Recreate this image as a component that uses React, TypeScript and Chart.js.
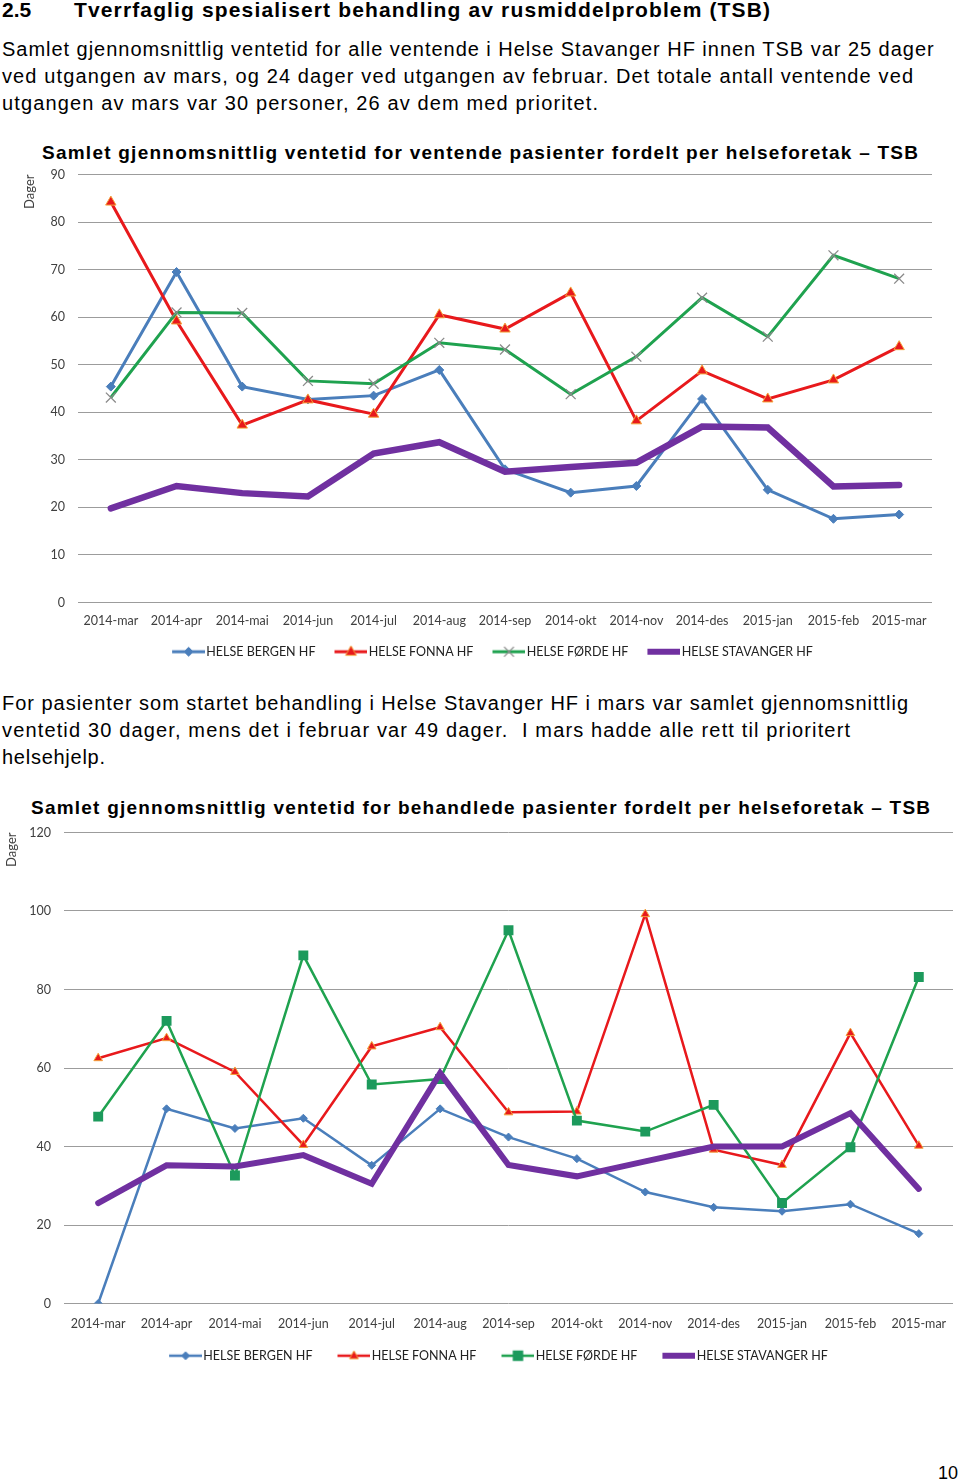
import React, { useEffect, useRef } from 'react';
import { Chart, registerables } from 'chart.js';

Chart.register(...registerables);

// ---------- data ----------
const months = ['2014-mar', '2014-apr', '2014-mai', '2014-jun', '2014-jul', '2014-aug', '2014-sep', '2014-okt', '2014-nov', '2014-des', '2015-jan', '2015-feb', '2015-mar'];
const seriesNames = ['HELSE BERGEN HF', 'HELSE FONNA HF', 'HELSE FØRDE HF', 'HELSE STAVANGER HF'];

// Chart 1: waiting patients (days)
const bergenWaiting = [45.4, 69.5, 45.4, 42.7, 43.5, 48.9, 28.0, 23.1, 24.5, 42.8, 23.7, 17.6, 18.5];
const fonnaWaiting = [84.2, 59.2, 37.3, 42.6, 39.6, 60.5, 57.5, 65.1, 38.2, 48.7, 42.8, 46.8, 53.8];
const fordeWaiting = [43.1, 61.0, 60.9, 46.6, 46.0, 54.6, 53.2, 43.8, 51.7, 64.1, 55.9, 73.0, 68.1];
const stavangerWaiting = [19.8, 24.5, 23.0, 22.3, 31.3, 33.7, 27.5, 28.5, 29.4, 37.0, 36.8, 24.4, 24.7];

// Chart 2: treated patients (days)
const bergenTreated = [0, 49.6, 44.6, 47.2, 35.2, 49.6, 42.4, 36.9, 28.4, 24.5, 23.5, 25.3, 17.8];
const fonnaTreated = [62.5, 67.6, 59.0, 40.4, 65.5, 70.4, 48.7, 48.9, 99.2, 39.2, 35.3, 68.9, 40.2];
const fordeTreated = [47.6, 72.0, 32.6, 88.7, 55.8, 57.2, 95.1, 46.6, 43.8, 50.6, 25.6, 39.8, 83.2];
const stavangerTreated = [25.6, 35.2, 34.9, 37.8, 30.5, 58.7, 35.3, 32.4, 36.2, 40.0, 40.0, 48.5, 29.2];

const yTicks1 = { min: 0, max: 90, step: 10 };
const yTicks2 = { min: 0, max: 120, step: 20 };

// ---------- styles ----------
const BLUE = '#4a7ebb';
const RED = '#e8191c';
const RED_EDGE = '#f4a23a';
const GREEN = '#1fa24f';
const GREEN_SQ = '#1c9a5c';
const GREY_X = '#8a8a8a';
const PURPLE = '#7030a0';
const GRID = '#9c9c9c';
const TICK = '#404040';
const AXIS_FONT = 'Lato';

type MarkerSpec = { line: string; lineWidth: number; style: string | false; fill: string; stroke: string; radius: number; borderWidth: number };

function drawMarker(ctx: CanvasRenderingContext2D, m: MarkerSpec, cx: number, cy: number) {
  if (!m.style) return;
  const r = m.radius;
  ctx.save();
  ctx.fillStyle = m.fill;
  ctx.strokeStyle = m.stroke;
  ctx.lineWidth = m.borderWidth;
  ctx.beginPath();
  if (m.style === 'rectRot') {
    ctx.moveTo(cx, cy - r); ctx.lineTo(cx + r, cy); ctx.lineTo(cx, cy + r); ctx.lineTo(cx - r, cy); ctx.closePath();
    ctx.fill(); ctx.stroke();
  } else if (m.style === 'triangle') {
    ctx.moveTo(cx, cy - r); ctx.lineTo(cx + r * 0.9, cy + r * 0.6); ctx.lineTo(cx - r * 0.9, cy + r * 0.6); ctx.closePath();
    ctx.fill(); ctx.stroke();
  } else if (m.style === 'rect') {
    ctx.rect(cx - r * 0.75, cy - r * 0.75, r * 1.5, r * 1.5);
    ctx.fill();
  } else if (m.style === 'crossRot') {
    const d = r * 0.7;
    ctx.moveTo(cx - d, cy - d); ctx.lineTo(cx + d, cy + d); ctx.moveTo(cx + d, cy - d); ctx.lineTo(cx - d, cy + d);
    ctx.stroke();
  }
  ctx.restore();
}

function legendIcon(m: MarkerSpec, leftGap: number): HTMLCanvasElement {
  const lineLen = 33;
  const c = document.createElement('canvas');
  c.width = leftGap + lineLen; c.height = 14;
  const ctx = c.getContext('2d')!;
  const x0 = leftGap, x1 = leftGap + lineLen, cy = 7;
  ctx.strokeStyle = m.line;
  ctx.lineWidth = m.lineWidth;
  ctx.beginPath(); ctx.moveTo(x0, cy); ctx.lineTo(x1, cy); ctx.stroke();
  drawMarker(ctx, m, (x0 + x1) / 2, cy);
  return c;
}

const markers1: MarkerSpec[] = [
  { line: BLUE, lineWidth: 3, style: 'rectRot', fill: BLUE, stroke: BLUE, radius: 4.5, borderWidth: 1 },
  { line: RED, lineWidth: 3, style: 'triangle', fill: RED, stroke: RED_EDGE, radius: 6, borderWidth: 1 },
  { line: GREEN, lineWidth: 3, style: 'crossRot', fill: GREY_X, stroke: GREY_X, radius: 7, borderWidth: 1.3 },
  { line: PURPLE, lineWidth: 6, style: false, fill: PURPLE, stroke: PURPLE, radius: 0, borderWidth: 0 },
];
const markers2: MarkerSpec[] = [
  { line: BLUE, lineWidth: 2.5, style: 'rectRot', fill: BLUE, stroke: BLUE, radius: 4, borderWidth: 1 },
  { line: RED, lineWidth: 2.5, style: 'triangle', fill: RED, stroke: RED_EDGE, radius: 5, borderWidth: 1 },
  { line: GREEN, lineWidth: 2.5, style: 'rect', fill: GREEN_SQ, stroke: GREEN_SQ, radius: 7, borderWidth: 0 },
  { line: PURPLE, lineWidth: 6, style: false, fill: PURPLE, stroke: PURPLE, radius: 0, borderWidth: 0 },
];

type ChartSpec = {
  series: number[][];
  markers: MarkerSpec[];
  yTicks: { min: number; max: number; step: number };
  lineWidths: number[];
  width: number;
  height: number;
  padding: { left: number; right: number; top: number; bottom: number };
  yAxisWidth: number;
  xAxisHeight: number;
  xTickPad: number;
  titlePad: number;
  iconGap: number;
};

function LineChart({ spec, style }: { spec: ChartSpec; style: React.CSSProperties }) {
  const ref = useRef<HTMLCanvasElement | null>(null);
  useEffect(() => {
    const canvas = ref.current!;
    const icons = spec.markers.map((m) => legendIcon(m, spec.iconGap));
    const iconW = icons[0].width;
    const datasets = spec.series.map((data, i) => {
      const m = spec.markers[i];
      return {
        label: seriesNames[i],
        data,
        borderColor: m.line,
        backgroundColor: m.line,
        borderWidth: spec.lineWidths[i],
        tension: 0,
        borderJoinStyle: 'miter' as const,
        borderCapStyle: i === 3 ? ('round' as const) : ('butt' as const),
        pointStyle: m.style || 'circle',
        pointRadius: m.style ? m.radius : 0,
        pointHoverRadius: m.style ? m.radius : 0,
        pointBackgroundColor: m.fill,
        pointBorderColor: m.stroke,
        pointBorderWidth: m.borderWidth,
        order: 3 - i,
      };
    });
    const chart = new Chart(canvas, {
      type: 'line',
      data: { labels: months, datasets },
      options: {
        responsive: false,
        animation: false,
        devicePixelRatio: 1,
        layout: { padding: spec.padding },
        scales: {
          x: {
            type: 'category',
            offset: true,
            grid: { display: false, drawTicks: false },
            border: { display: false },
            ticks: {
              autoSkip: false,
              maxRotation: 0,
              minRotation: 0,
              padding: spec.xTickPad,
              color: TICK,
              font: { family: AXIS_FONT, size: 12.5, lineHeight: 1.2 },
            },
            afterFit: (s: any) => { s.height = spec.xAxisHeight; },
          },
          y: {
            min: spec.yTicks.min,
            max: spec.yTicks.max,
            grid: { color: GRID, lineWidth: 1, drawTicks: false },
            border: { display: false },
            ticks: {
              stepSize: spec.yTicks.step,
              padding: 13,
              color: TICK,
              font: { family: AXIS_FONT, size: 12.5, lineHeight: 1.2 },
            },
            title: {
              display: true,
              text: 'Dager',
              align: 'end',
              color: TICK,
              font: { family: AXIS_FONT, size: 13 },
              padding: { top: spec.titlePad, bottom: 0 },
            },
            afterFit: (s: any) => { s.width = spec.yAxisWidth; },
          },
        },
        plugins: {
          tooltip: { enabled: false },
          legend: {
            position: 'bottom',
            labels: {
              usePointStyle: true,
              pointStyleWidth: iconW - 10,
              padding: 8,
              color: '#222',
              font: { family: AXIS_FONT, size: 12.5 },
              generateLabels: () =>
                seriesNames.map((name, i) => ({
                  text: name,
                  pointStyle: icons[i] as any,
                  fillStyle: 'transparent',
                  strokeStyle: 'transparent',
                  lineWidth: 0,
                  hidden: false,
                  datasetIndex: i,
                  fontColor: '#222',
                })),
            },
          },
        },
      },
    });
    return () => chart.destroy();
  }, [spec]);
  return <canvas ref={ref} width={spec.width} height={spec.height} style={{ position: 'absolute', width: spec.width, height: spec.height, ...style }} />;
}

// ---------- text ----------
let measureCtx: CanvasRenderingContext2D | null = null;
function measure(text: string, font: string) {
  if (!measureCtx) measureCtx = document.createElement('canvas').getContext('2d');
  measureCtx!.font = font;
  return measureCtx!.measureText(text).width;
}

const BODY_FONT = '"Liberation Sans", Arial, sans-serif';

function FitLine({ text, x, baseline, size, bold, width }: { text: string; x: number; baseline: number; size: number; bold?: boolean; width?: number }) {
  const weight = bold ? 'bold' : 'normal';
  let ls = 0;
  if (width) {
    const natural = measure(text, `${weight} ${size}px "Liberation Sans"`);
    ls = (width - natural) / Math.max(1, text.length - 1);
  }
  return (
    <div
      style={{
        position: 'absolute',
        left: x,
        top: baseline - 0.8465 * size,
        fontFamily: BODY_FONT,
        fontSize: size,
        fontWeight: weight as any,
        lineHeight: `${size}px`,
        letterSpacing: ls,
        whiteSpace: 'pre',
        color: '#000',
      }}
    >
      {text}
    </div>
  );
}

const spec1: ChartSpec = {
  series: [bergenWaiting, fonnaWaiting, fordeWaiting, stavangerWaiting],
  markers: markers1,
  yTicks: yTicks1,
  lineWidths: [3, 3, 3, 6.5],
  width: 960,
  height: 516,
  padding: { left: 42, right: 28, top: 0, bottom: 2 },
  yAxisWidth: 36,
  xAxisHeight: 35,
  xTickPad: 11,
  titlePad: -20,
  iconGap: 16,
};

const spec2: ChartSpec = {
  series: [bergenTreated, fonnaTreated, fordeTreated, stavangerTreated],
  markers: markers2,
  yTicks: yTicks2,
  lineWidths: [2.5, 2.5, 2.5, 6],
  width: 960,
  height: 562,
  padding: { left: 25, right: 5, top: 0, bottom: 2 },
  yAxisWidth: 39,
  xAxisHeight: 38,
  xTickPad: 13,
  titlePad: -20.8,
  iconGap: 22,
};

export default function App() {
  return (
    <div style={{ position: 'absolute', left: 0, top: 0, width: 960, height: 1484, background: '#fff', overflow: 'hidden' }}>
      <FitLine text="2.5" x={2} baseline={17} size={21} bold />
      <FitLine text="Tverrfaglig spesialisert behandling av rusmiddelproblem (TSB)" x={74} baseline={17} size={21} bold width={696} />

      <FitLine text="Samlet gjennomsnittlig ventetid for alle ventende i Helse Stavanger HF innen TSB var 25 dager" x={2} baseline={56} size={20} width={932} />
      <FitLine text="ved utgangen av mars, og 24 dager ved utgangen av februar. Det totale antall ventende ved" x={2} baseline={83} size={20} width={911} />
      <FitLine text="utgangen av mars var 30 personer, 26 av dem med prioritet." x={2} baseline={110} size={20} width={596} />

      <FitLine text="Samlet gjennomsnittlig ventetid for ventende pasienter fordelt per helseforetak – TSB" x={42} baseline={159} size={19} bold width={876} />
      <LineChart spec={spec1} style={{ left: 0, top: 154 }} />

      <FitLine text="For pasienter som startet behandling i Helse Stavanger HF i mars var samlet gjennomsnittlig" x={2} baseline={710} size={20} width={906} />
      <FitLine text="ventetid 30 dager, mens det i februar var 49 dager.  I mars hadde alle rett til prioritert" x={2} baseline={737} size={20} width={848} />
      <FitLine text="helsehjelp." x={2} baseline={764} size={20} width={103} />

      <FitLine text="Samlet gjennomsnittlig ventetid for behandlede pasienter fordelt per helseforetak – TSB" x={31} baseline={814} size={19} bold width={899} />
      <LineChart spec={spec2} style={{ left: 0, top: 812 }} />

      <FitLine text="10" x={938} baseline={1479} size={18} />
    </div>
  );
}
